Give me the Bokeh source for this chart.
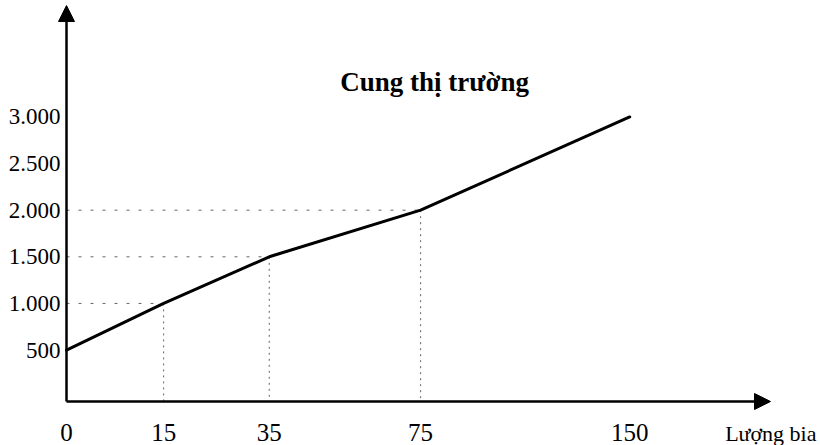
import numpy as np
from bokeh.plotting import figure
from bokeh.models import Range1d, Arrow, NormalHead, Label, ColumnDataSource
from bokeh.core.properties import value
from bokeh.embed import file_html
from bokeh.resources import INLINE

# ---- data ----
quantity = [0, 15, 35, 75, 150]          # Lượng bia
price = [500, 1000, 1500, 2000, 3000]    # giá
x_tick_values = [0, 15, 35, 75, 150]
y_tick_values = [500, 1000, 1500, 2000, 2500, 3000]
y_tick_labels = ["500", "1.000", "1.500", "2.000", "2.500", "3.000"]
chart_title = "Cung thị trường"
x_axis_title = "Lượng bia"

# ---- the drawing's schematic (non-proportional) quantity axis ----
# where each quantity tick sits along the axis, as a fraction of the arrow length
scale_q = [0, 15, 35, 75, 150]
scale_pos = [0.0, 0.138, 0.288, 0.503, 0.8]


def ax(q):
    return [float(v) for v in np.atleast_1d(np.interp(q, scale_q, scale_pos))]


X_START, X_END = -0.09375, 1.0710
Y_START, Y_END = -524, 4249
Y_AXIS = -52          # price level where the quantity axis is drawn
Y_TIP = 4195          # top of the price-axis arrow
FONT = "Liberation Serif"

p = figure(width=820, height=445, output_backend="svg", toolbar_location=None,
           x_range=Range1d(X_START, X_END), y_range=Range1d(Y_START, Y_END),
           min_border_left=0, min_border_right=0, min_border_top=0,
           min_border_bottom=0)
p.axis.visible = False
p.outline_line_color = None
p.grid.visible = False
p.background_fill_color = "white"
p.border_fill_color = "white"

# guide lines to the marked points
gq = quantity[1:4]
gp = price[1:4]
guides = ColumnDataSource(dict(x=ax(gq), y=gp, x0=[0.0] * len(gq), yb=[Y_AXIS] * len(gq)))
p.segment(x0="x0", y0="y", x1="x", y1="y", source=guides, line_color="#666666",
          line_width=1, line_dash="3 9")
p.segment(x0="x", y0="y", x1="x", y1="yb", source=guides, line_color="#666666",
          line_width=1, line_dash="2 4")

# supply curve
p.line(ax(quantity), price, line_color="black", line_width=3, line_join="round",
       line_cap="round")

# axis arrows
head = dict(size=16, fill_color="black", line_color="black", line_width=1)
p.add_layout(Arrow(end=NormalHead(**head), x_start=0, y_start=Y_AXIS, x_end=0,
                   y_end=Y_TIP, line_width=2.5, line_color="black"))
p.add_layout(Arrow(end=NormalHead(**head), x_start=0, y_start=Y_AXIS, x_end=1.0,
                   y_end=Y_AXIS, line_width=2.5, line_color="black"))

# tick labels
xl = ColumnDataSource(dict(x=ax(x_tick_values), y=[Y_AXIS] * len(x_tick_values),
                           t=[str(q) for q in x_tick_values]))
p.text(x="x", y="y", text="t", source=xl, text_align="center", text_baseline="alphabetic",
       y_offset=31, text_font=value(FONT), text_font_size="25px", text_color="black")
yl = ColumnDataSource(dict(x=[0.0] * len(y_tick_values), y=y_tick_values, t=y_tick_labels))
p.text(x="x", y="y", text="t", source=yl, text_align="right", text_baseline="middle",
       x_offset=-6, text_font=value(FONT), text_font_size="23px", text_color="black")

# texts
p.add_layout(Label(x=ax(80)[0], y=3380, text=chart_title, text_align="center",
                   text_baseline="alphabetic", text_font=FONT, text_font_size="27px",
                   text_font_style="bold", text_color="black"))
p.add_layout(Label(x=X_END, y=Y_AXIS, y_offset=-32, x_offset=-4, text=x_axis_title,
                   text_align="right", text_baseline="alphabetic", text_font=FONT,
                   text_font_size="22px", text_color="black"))

open("out.html", "w").write(file_html(p, INLINE))
